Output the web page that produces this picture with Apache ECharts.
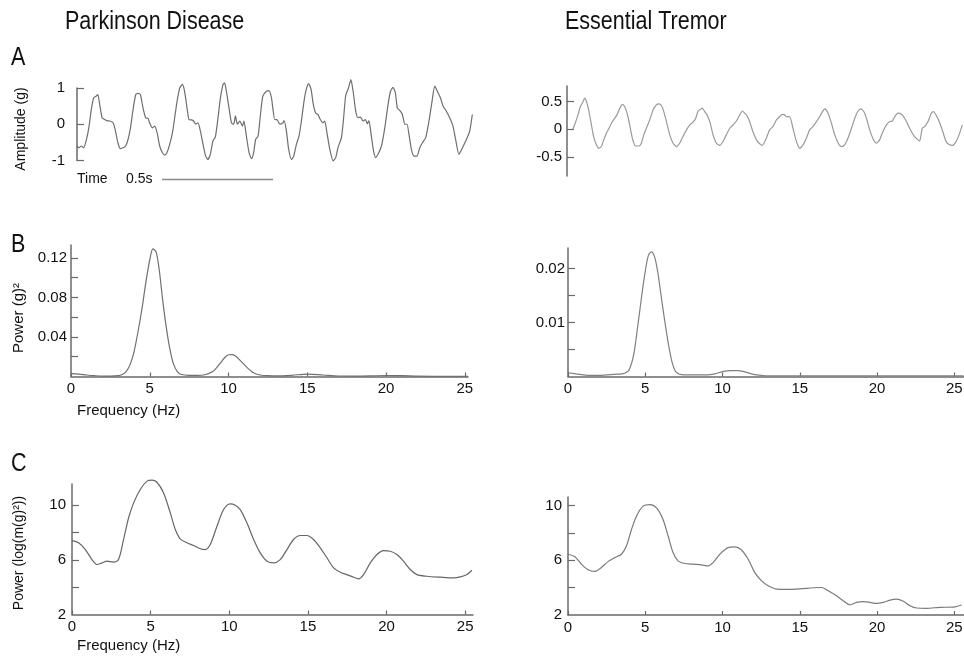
<!DOCTYPE html>
<html>
<head>
<meta charset="utf-8">
<title>Tremor recordings</title>
<script src="https://cdn.jsdelivr.net/npm/echarts@6/dist/echarts.min.js"></script>
<style>
  html, body { margin: 0; padding: 0; background: #fff; }
  #chart { width: 964px; height: 661px; }
</style>
</head>
<body>
<div id="chart"></div>
<script>
// ---------- A: accelerometer traces (time in ms, amplitude in g) ----------
var pdTime = [
  0, 9, 20, 30, 43, 55, 65, 76, 88, 95,
  103, 114, 126, 136, 149, 164, 175, 186, 197, 209,
  221, 232, 243, 255, 267, 277, 288, 300, 312, 323,
  330, 343, 353, 364, 376, 388, 399, 409, 421, 434,
  444, 455, 467, 479, 489, 500, 509, 520, 530, 540,
  550, 561, 573, 585, 595, 606, 618, 629, 641, 652,
  664, 671, 679, 691, 702, 712, 720, 729, 740, 752,
  759, 770, 782, 793, 803, 812, 823, 834, 845, 861,
  873, 884, 890, 899, 909, 922, 936, 941, 952, 962,
  975, 985, 997, 1009, 1020, 1032, 1042, 1053, 1064, 1073,
  1084, 1095, 1106, 1118, 1126, 1136, 1149, 1164, 1176, 1186,
  1202, 1212, 1221, 1234, 1245, 1255, 1267, 1277, 1288, 1300,
  1311, 1320, 1327, 1338, 1348, 1358, 1368, 1384, 1399, 1414,
  1425, 1436, 1447, 1456, 1467, 1479, 1490, 1500, 1509, 1520,
  1532, 1545, 1558, 1570, 1585, 1600, 1614, 1626, 1638, 1652,
  1664, 1679, 1694, 1709, 1721, 1736, 1752, 1770, 1785, 1797
];
var pdAmp = [
  -0.60, -0.65, -0.60, -0.65, -0.42, -0.05, 0.41, 0.73, 0.78, 0.82,
  0.55, 0.18, 0.13, 0.10, 0.09, 0.04, -0.19, -0.51, -0.67, -0.65,
  -0.60, -0.42, -0.10, 0.41, 0.82, 0.85, 0.82, 0.45, 0.18, 0.16,
  0.04, -0.10, -0.05, -0.23, -0.60, -0.78, -0.85, -0.78, -0.56, -0.23,
  0.18, 0.64, 1.00, 1.10, 0.91, 0.45, 0.13, 0.12, 0.09, 0.00,
  0.04, -0.19, -0.56, -0.88, -0.97, -0.83, -0.46, -0.35, 0.18, 0.73,
  1.10, 1.14, 0.91, 0.45, 0.04, 0.00, 0.23, 0.00, 0.09, -0.05,
  0.09, -0.33, -0.78, -0.95, -0.78, -0.42, -0.33, 0.27, 0.78, 0.91,
  0.93, 0.73, 0.45, 0.13, 0.13, 0.00, 0.04, 0.10, -0.19, -0.69,
  -0.97, -0.88, -0.56, -0.33, 0.09, 0.64, 0.96, 1.12, 0.96, 0.59,
  0.32, 0.27, 0.13, 0.04, 0.09, -0.23, -0.69, -1.01, -0.92, -0.65,
  -0.37, 0.18, 0.78, 1.00, 1.23, 0.91, 0.36, 0.18, 0.20, 0.09,
  0.13, 0.01, 0.10, -0.33, -0.74, -0.92, -0.83, -0.60, -0.10, 0.55,
  0.91, 1.02, 0.87, 0.45, 0.38, 0.27, 0.00, 0.00, -0.28, -0.69,
  -0.88, -0.88, -0.65, -0.51, -0.37, 0.09, 0.64, 1.05, 0.91, 0.73,
  0.50, 0.36, 0.18, -0.05, -0.42, -0.83, -0.65, -0.42, -0.19, 0.27
];

var etTime = [
  27, 40, 50, 61, 73, 80, 91, 100, 111, 121,
  134, 145, 156, 167, 179, 191, 202, 217, 227, 240,
  252, 262, 273, 285, 297, 312, 327, 338, 349, 364,
  376, 391, 406, 418, 429, 440, 452, 467, 482, 497,
  512, 527, 543, 558, 573, 585, 595, 603, 615, 626,
  636, 649, 664, 679, 694, 709, 724, 740, 755, 770,
  785, 797, 808, 818, 830, 845, 861, 876, 888, 906,
  921, 936, 952, 967, 979, 989, 997, 1012, 1027, 1043,
  1058, 1073, 1088, 1103, 1118, 1134, 1149, 1161, 1172, 1187,
  1202, 1217, 1233, 1247, 1262, 1277, 1293, 1308, 1323, 1335,
  1349, 1361, 1376, 1391, 1406, 1421, 1436, 1452, 1467, 1479,
  1490, 1505, 1520, 1535, 1550, 1565, 1580, 1595, 1603, 1615,
  1626, 1641, 1656, 1666, 1677, 1692, 1708, 1723, 1735, 1752,
  1767, 1782, 1797
];
var etAmp = [
  0.00, 0.14, 0.26, 0.41, 0.50, 0.56, 0.47, 0.32, 0.08, -0.13,
  -0.28, -0.34, -0.31, -0.19, -0.07, 0.02, 0.11, 0.20, 0.26, 0.38,
  0.45, 0.41, 0.29, 0.08, -0.16, -0.30, -0.30, -0.25, -0.10, 0.05,
  0.17, 0.35, 0.44, 0.46, 0.43, 0.32, 0.14, -0.10, -0.25, -0.31,
  -0.25, -0.13, -0.01, 0.08, 0.13, 0.20, 0.32, 0.35, 0.38, 0.32,
  0.26, 0.14, -0.10, -0.25, -0.29, -0.22, -0.10, 0.02, 0.08, 0.15,
  0.26, 0.33, 0.29, 0.25, 0.14, -0.04, -0.19, -0.26, -0.29, -0.16,
  -0.01, 0.05, 0.17, 0.23, 0.27, 0.26, 0.23, 0.23, 0.02, -0.22,
  -0.34, -0.28, -0.16, -0.01, 0.05, 0.14, 0.23, 0.32, 0.37, 0.29,
  0.11, -0.10, -0.25, -0.31, -0.28, -0.16, 0.02, 0.20, 0.33, 0.37,
  0.32, 0.20, -0.01, -0.17, -0.25, -0.19, -0.04, 0.08, 0.14, 0.15,
  0.23, 0.29, 0.27, 0.20, 0.08, -0.04, -0.13, -0.19, -0.21, 0.02,
  0.05, 0.14, 0.29, 0.32, 0.26, 0.14, -0.04, -0.22, -0.27, -0.29,
  -0.23, -0.10, 0.08
];

// ---------- B: power spectra, (g)^2 ----------
var bPdFreq = [
  0, 0.5, 1, 1.5, 2, 2.5, 3, 3.25, 3.5, 3.75,
  4, 4.25, 4.5, 4.75, 5, 5.2, 5.4, 5.6, 5.8, 6,
  6.25, 6.5, 6.75, 7, 7.5, 8, 8.5, 9, 9.25, 9.5,
  9.75, 10, 10.25, 10.5, 10.75, 11, 11.25, 11.5, 11.75, 12,
  12.5, 13, 14, 15, 16, 17, 18, 19, 20, 21,
  22, 23, 24, 25, 25.2
];
var bPdPow = [
  0.003, 0.0025, 0.0015, 0.0008, 0.0004, 0.0004, 0.0008, 0.002, 0.005, 0.012,
  0.025, 0.045, 0.068, 0.095, 0.118, 0.129, 0.126, 0.108, 0.08, 0.055,
  0.03, 0.013, 0.005, 0.002, 0.0012, 0.0012, 0.0018, 0.005, 0.009, 0.014,
  0.019, 0.022, 0.0222, 0.020, 0.016, 0.012, 0.008, 0.0045, 0.0025, 0.0015,
  0.0008, 0.0006, 0.0012, 0.0025, 0.0015, 0.0005, 0.0004, 0.0006, 0.001, 0.0008,
  0.0003, 0.0002, 0.0002, 0.0002, 0.0002
];

var bEtFreq = [
  0, 0.5, 1, 1.5, 2, 2.5, 3, 3.5, 3.8, 4,
  4.25, 4.5, 4.75, 5, 5.2, 5.4, 5.6, 5.8, 6, 6.25,
  6.5, 6.75, 7, 7.5, 8, 8.5, 9, 9.5, 10, 10.5,
  11, 11.5, 12, 12.5, 13, 14, 15, 17, 20, 23,
  25.6
];
var bEtPow = [
  0.0007, 0.0005, 0.0003, 0.0002, 0.0002, 0.0003, 0.0004, 0.0005, 0.0008, 0.0015,
  0.004, 0.009, 0.0145, 0.0195, 0.0224, 0.0231, 0.0222, 0.0195, 0.0155, 0.0105,
  0.006, 0.0025, 0.0008, 0.0003, 0.0003, 0.0003, 0.0003, 0.0005, 0.0009, 0.0011,
  0.0011, 0.0008, 0.0004, 0.0002, 0.0001, 0.0001, 0.0001, 0.0001, 0.0001, 0.0001,
  0.0001
];

// ---------- C: log power spectra ----------
var cPdFreq = [
  0, 0.42, 0.85, 1.27, 1.59, 1.91, 2.22, 2.64, 2.96, 3.28,
  3.6, 3.92, 4.34, 4.77, 5.09, 5.4, 5.82, 6.25, 6.57, 6.88,
  7.31, 7.73, 8.16, 8.47, 8.79, 9.22, 9.64, 10.06, 10.38, 10.7,
  11.12, 11.55, 11.97, 12.4, 12.82, 13.24, 13.67, 14.09, 14.52, 14.94,
  15.36, 15.79, 16.21, 16.64, 17.06, 17.48, 17.91, 18.22, 18.54, 18.97,
  19.39, 19.81, 20.24, 20.66, 21.08, 21.51, 21.93, 22.57, 23.41, 24.26,
  24.69, 25.11, 25.43
];
var cPdPow = [
  7.41, 7.25, 6.75, 6.02, 5.66, 5.78, 5.90, 5.83, 6.02, 7.49,
  9.08, 10.17, 11.15, 11.76, 11.83, 11.68, 10.91, 9.44, 8.22, 7.54,
  7.25, 7.05, 6.81, 6.75, 7.12, 8.46, 9.68, 10.10, 10.0, 9.68,
  8.71, 7.49, 6.51, 5.90, 5.78, 6.02, 6.75, 7.49, 7.78, 7.78,
  7.49, 6.88, 6.15, 5.41, 5.09, 4.92, 4.73, 4.61, 4.92, 5.78,
  6.39, 6.68, 6.63, 6.39, 5.90, 5.29, 4.92, 4.80, 4.73, 4.68,
  4.75, 4.92, 5.24
];

var cEtFreq = [
  0, 0.43, 0.87, 1.3, 1.73, 2.16, 2.59, 3.02, 3.46, 3.78,
  4.11, 4.43, 4.86, 5.29, 5.73, 6.15, 6.48, 6.8, 7.12, 7.56,
  8.1, 8.64, 9.07, 9.39, 9.83, 10.36, 10.8, 11.23, 11.66, 12.09,
  12.53, 12.95, 13.5, 14.14, 15.01, 15.87, 16.41, 16.84, 17.38, 17.81,
  18.25, 18.68, 19.11, 19.54, 19.97, 20.4, 20.84, 21.27, 21.7, 22.13,
  22.57, 23.21, 24.07, 24.94, 25.48
];
var cEtPow = [
  6.44, 6.27, 5.71, 5.30, 5.18, 5.47, 5.90, 6.19, 6.44, 7.04,
  8.25, 9.22, 9.95, 10.07, 9.83, 8.98, 7.77, 6.56, 5.95, 5.76,
  5.71, 5.66, 5.59, 5.83, 6.44, 6.92, 6.97, 6.75, 6.07, 5.10,
  4.49, 4.13, 3.89, 3.87, 3.91, 3.99, 4.01, 3.77, 3.40, 3.04,
  2.75, 2.92, 2.97, 2.92, 2.85, 2.92, 3.09, 3.16, 3.00, 2.68,
  2.51, 2.49, 2.56, 2.58, 2.73
];

// tick / label values
var freqTicks = [0, 5, 10, 15, 20, 25];
var aPdTicks = [-1, 0, 1];
var aEtTicks = [-0.5, 0, 0.5];
var bPdTicks = [0.02, 0.04, 0.06, 0.08, 0.10, 0.12];
var bPdLabels = [0.04, 0.08, 0.12];
var bEtTicks = [0.005, 0.01, 0.015, 0.02];
var bEtLabels = [0.01, 0.02];
var cTicks = [4, 6, 8, 10];
var cLabels = [2, 6, 10];

var FONT = 'Liberation Sans, Arial, sans-serif';
var AXIS = '#6a6a6a';

var chart = echarts.init(document.getElementById('chart'));

function zip(xs, ys) {
    var out = [];
    for (var i = 0; i < xs.length; i++) out.push([xs[i], ys[i]]);
    return out;
}

function grid(left, top, width, height) {
    return { left: left, top: top, width: width, height: height, containLabel: false, outerBoundsMode: 'none' };
}

function hiddenX(g, max) {
    return { type: 'value', gridIndex: g, min: 0, max: max, show: false };
}

function freqX(g, max) {
    return {
        type: 'value', gridIndex: g, min: 0, max: max,
        axisLine: { show: true, onZero: false, lineStyle: { color: AXIS, width: 1.5 } },
        axisTick: { show: true, inside: true, length: 4, customValues: freqTicks, lineStyle: { color: AXIS, width: 1.2 } },
        axisLabel: { customValues: freqTicks, margin: 5, color: '#111', fontSize: 15, fontFamily: FONT },
        splitLine: { show: false }
    };
}

function valY(g, min, max, ticks, labels, margin) {
    return {
        type: 'value', gridIndex: g, min: min, max: max,
        axisLine: { show: true, onZero: false, lineStyle: { color: AXIS, width: 1.5 } },
        axisTick: { show: true, inside: true, length: 7, customValues: ticks, lineStyle: { color: AXIS, width: 1.2 } },
        axisLabel: {
            customValues: labels, margin: margin, color: '#111', fontSize: 15, fontFamily: FONT,
            formatter: function (v) { return String(v); }
        },
        splitLine: { show: false }
    };
}

function trace(g, data, color, smooth) {
    return {
        type: 'line', xAxisIndex: g, yAxisIndex: g, data: data,
        symbol: 'none', clip: false, smooth: smooth, silent: true,
        lineStyle: { color: color, width: 1.2 }
    };
}

// squeeze = horizontal scale, to mimic the condensed heading face
function label(text, x, y, size, rotate, squeeze) {
    return {
        type: 'text', x: x, y: y,
        rotation: rotate ? Math.PI / 2 : 0,
        scaleX: squeeze || 1,
        style: {
            text: text, fill: '#111', fontSize: size, fontFamily: FONT,
            textAlign: rotate ? 'center' : 'left', textVerticalAlign: 'middle'
        }
    };
}

var option = {
    animation: false,
    backgroundColor: '#fff',
    grid: [
        grid(77, 88, 396, 72.5),     // A  PD
        grid(567, 86, 396, 90),      // A  ET
        grid(71, 245, 397, 131.5),   // B  PD
        grid(568, 248, 396, 128.5),  // B  ET
        grid(72, 484, 401, 130.5),   // C  PD
        grid(568, 497, 396, 118)     // C  ET
    ],
    xAxis: [
        hiddenX(0, 1800),
        hiddenX(1, 1800),
        freqX(2, 25.2),
        freqX(3, 25.63),
        freqX(4, 25.5),
        freqX(5, 25.63)
    ],
    yAxis: [
        valY(0, -1, 1, aPdTicks, aPdTicks, 12),
        valY(1, -0.84, 0.78, aEtTicks, aEtTicks, 5),
        valY(2, 0, 0.133, bPdTicks, bPdLabels, 4),
        valY(3, 0, 0.0238, bEtTicks, bEtLabels, 3),
        valY(4, 2, 11.55, cTicks, cLabels, 6),
        valY(5, 2, 10.62, cTicks, cLabels, 6)
    ],
    series: [
        trace(0, zip(pdTime, pdAmp), '#6e6e6e', 0.2),
        trace(1, zip(etTime, etAmp), '#9a9a9a', 0.2),
        trace(2, zip(bPdFreq, bPdPow), '#707070', 0.3),
        trace(3, zip(bEtFreq, bEtPow), '#808080', 0.3),
        trace(4, zip(cPdFreq, cPdPow), '#666666', 0.3),
        trace(5, zip(cEtFreq, cEtPow), '#7a7a7a', 0.3)
    ],
    graphic: [
        label('Parkinson Disease', 65, 22, 25, false, 0.86),
        label('Essential Tremor', 565, 22, 25, false, 0.86),
        label('A', 11, 58, 25, false, 0.86),
        label('B', 11, 245, 25, false, 0.86),
        label('C', 11, 464, 25, false, 0.86),
        label('Amplitude (g)', 21, 129, 14, true),
        label('Power (g)\u00b2', 19, 318, 15, true),
        label('Power (log(m(g)\u00b2))', 19, 553, 14, true),
        label('Frequency (Hz)', 77, 411, 15),
        label('Frequency (Hz)', 77, 646, 15),
        label('Time', 77, 179, 14),
        label('0.5s', 126, 179, 14),
        {
            type: 'line',
            shape: { x1: 162, y1: 179.5, x2: 273, y2: 179.5 },
            style: { stroke: '#8a8a8a', lineWidth: 1.5 }
        }
    ]
};

chart.setOption(option);
</script>
</body>
</html>
